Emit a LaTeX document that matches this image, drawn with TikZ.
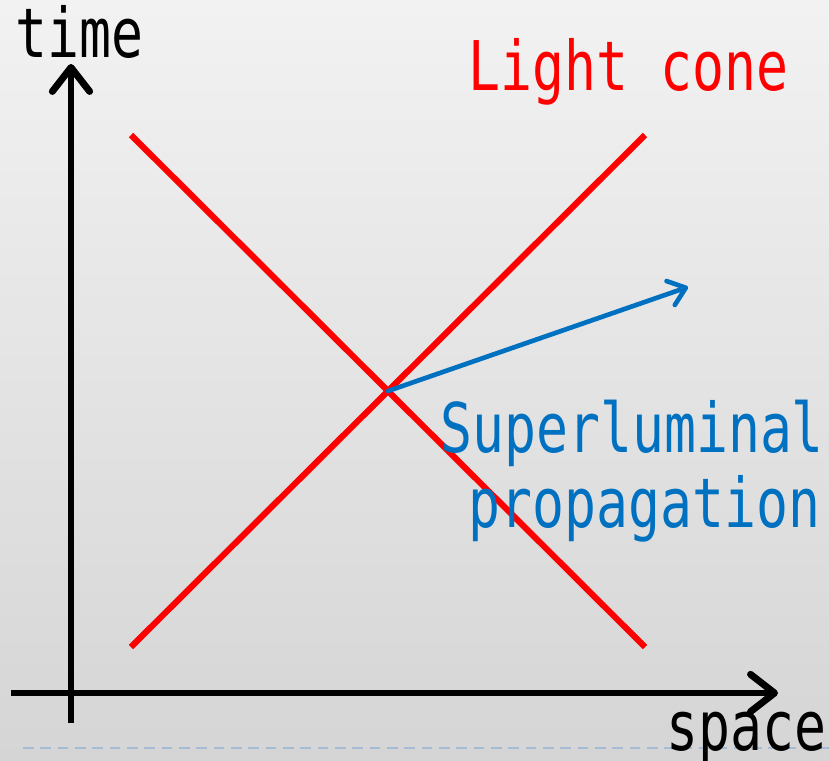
\documentclass[tikz,border=0pt]{standalone}
\usepackage{fontspec}
\newfontfamily\gothic[FakeStretch=0.775]{DejaVu Sans Mono}
\usetikzlibrary{arrows.meta, positioning}
\definecolor{rojoCono}{RGB}{255,0,0}
\definecolor{azulSuper}{RGB}{0,112,192}
\definecolor{fondoArriba}{RGB}{242,242,242}
\definecolor{fondoAbajo}{RGB}{213,213,213}
\definecolor{guiaAzul}{RGB}{165,188,212}

\begin{document}
\begin{tikzpicture}[x=0.75pt, y=-0.75pt,
    eje/.style={line width=5.2pt, -{Straight Barb[length=18pt, width=28pt, round]}},
    cono/.style={line width=4.6pt, rojoCono},
    flecha/.style={line width=3.5pt, azulSuper, line cap=round, -{Straight Barb[length=12pt, width=19pt, round]}},
    texto/.style={inner sep=0pt, anchor=base west, font=\gothic\fontsize{51.4}{60}\selectfont}]

    % fondo
    \shade[top color=fondoArriba, bottom color=fondoAbajo] (0,0) rectangle (829,761);
    \useasboundingbox (0,0) rectangle (829,761);
    \coordinate (guiaI) at (23,748);
    \coordinate (guiaD) at (829,748);
    \draw[guiaAzul, line width=1.3pt, dash pattern=on 8pt off 5pt] (guiaI) -- (guiaD);

    % ejes
    \coordinate (tAbajo) at (71,723);
    \coordinate (tArriba) at (71,64);
    \coordinate (xIzq) at (11,693);
    \coordinate (xDer) at (778,693);
    \draw[eje] (tAbajo) -- (tArriba);
    \draw[eje] (xIzq) -- (xDer);

    % cono de luz
    \coordinate (a1) at (131,135);
    \coordinate (a2) at (645,647);
    \coordinate (b1) at (131,647);
    \coordinate (b2) at (645,135);
    \coordinate (cruce) at (388,391);
    \draw[cono] (a1) -- (a2);
    \draw[cono] (b1) -- (b2);

    % propagacion superluminal
    \coordinate (punta) at (688,287);
    \draw[flecha] (cruce) -- (punta);

    % textos
    \node[texto] (tiempo) at (15,57) {time};
    \node[texto, text=rojoCono] (luz) at (468,90) {Light cone};
    \node[texto, text=azulSuper] (super) at (440,452) {Superluminal};
    \node[texto, text=azulSuper] (prop) at (468,527) {propagation};
    \node[texto] (espacio) at (666,750) {space};
\end{tikzpicture}
\end{document}
